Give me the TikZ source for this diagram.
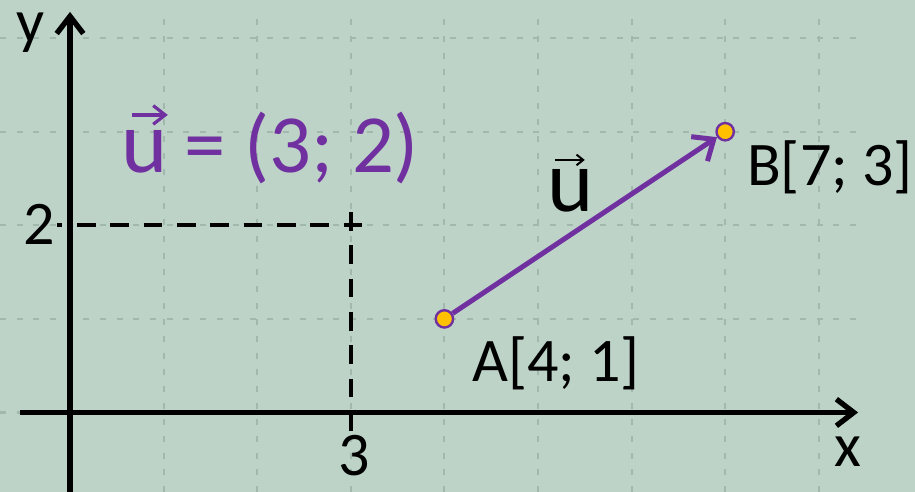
\documentclass[tikz,border=0pt]{standalone}
\usepackage{fontspec}
\setmainfont{Carlito}
\usetikzlibrary{arrows.meta,positioning,calc}
\definecolor{board}{HTML}{BDD3C7}
\definecolor{gridgray}{HTML}{A2B8AD}
\definecolor{vecpurple}{HTML}{7030A0}
\definecolor{gold}{HTML}{FFC000}
\tikzset{
  gridline/.style={gridgray,line width=1.6pt,dash pattern=on 4.5pt off 8pt},
  axis/.style={line width=4pt,-{Straight Barb[length=13pt,width=20pt]}},
  guide/.style={line width=3pt,dash pattern=on 14pt off 11pt},
  pt/.style={circle,draw=vecpurple,fill=gold,line width=1.8pt,minimum size=13pt,inner sep=0pt},
  lbl/.style={inner sep=0pt,font=\fontsize{46.5}{50}\selectfont},
  bigu/.style={inner sep=0pt,anchor=base west,font=\fontsize{66}{70}\selectfont}
}

\begin{document}
\begin{tikzpicture}[x=70.2pt,y=70.2pt]
\fill[board] (-0.748,-0.849) rectangle (9.028,4.407);
\useasboundingbox (-0.748,-0.849) rectangle (9.028,4.407);
\foreach \i in {0,...,4} \draw[gridline] (-0.748,\i)--(8.42,\i);
\foreach \i in {1,...,8} \draw[gridline] (\i,-0.849)--(\i,4.28);
\coordinate (xs) at (-0.534,0);\coordinate (xe) at (8.42,0);
\coordinate (ys) at (0,-0.849);\coordinate (ye) at (0,4.28);
\draw[axis] (xs)--(xe);\draw[axis] (ys)--(ye);
\draw[guide,dash phase=10pt] (-0.14,2)--(3.2,2);\draw[guide] (3,2.142)--(3,-0.294);
\node[lbl,anchor=base] (xl) at (8.312,-0.582){x};\node[lbl,anchor=base] (yl) at (-0.427,3.95){y};
\node[lbl,anchor=base] (two) at (-0.326,1.79){2};\node[lbl,anchor=base] (three) at (3.04,-0.668){3};
\node[pt] (A) at (4,1){};\node[pt] (B) at (7,3){};
\draw[vecpurple,line width=3.75pt,-{Straight Barb[length=13pt,width=22pt]}] (A)--(B);
\node[lbl,anchor=base west] (Alab) at (4.295,0.326){A[4; 1]};
\node[lbl,anchor=base west] (Blab) at (7.233,2.42){B[7; 3]};
\node[bigu] (ulab) at (5.1,2.142){u};
\draw[line width=1.5pt,-{Straight Barb[length=5pt,width=8pt]}] ($(ulab.base west)+(0.08,0.556)$)--++(0.32,0);
\node[bigu,text=vecpurple] (ueq) at (0.55,2.559){u};
\node[inner sep=0pt,anchor=base west,text=vecpurple,font=\fontsize{62}{66}\selectfont] (uval) at ($(ueq.base east)+(0.17,0)$){= (3; 2)};
\draw[vecpurple,line width=2.4pt,-{Straight Barb[length=9pt,width=14pt]}] ($(ueq.base west)+(0.11,0.62)$)--++(0.385,0);
\end{tikzpicture}
\end{document}
